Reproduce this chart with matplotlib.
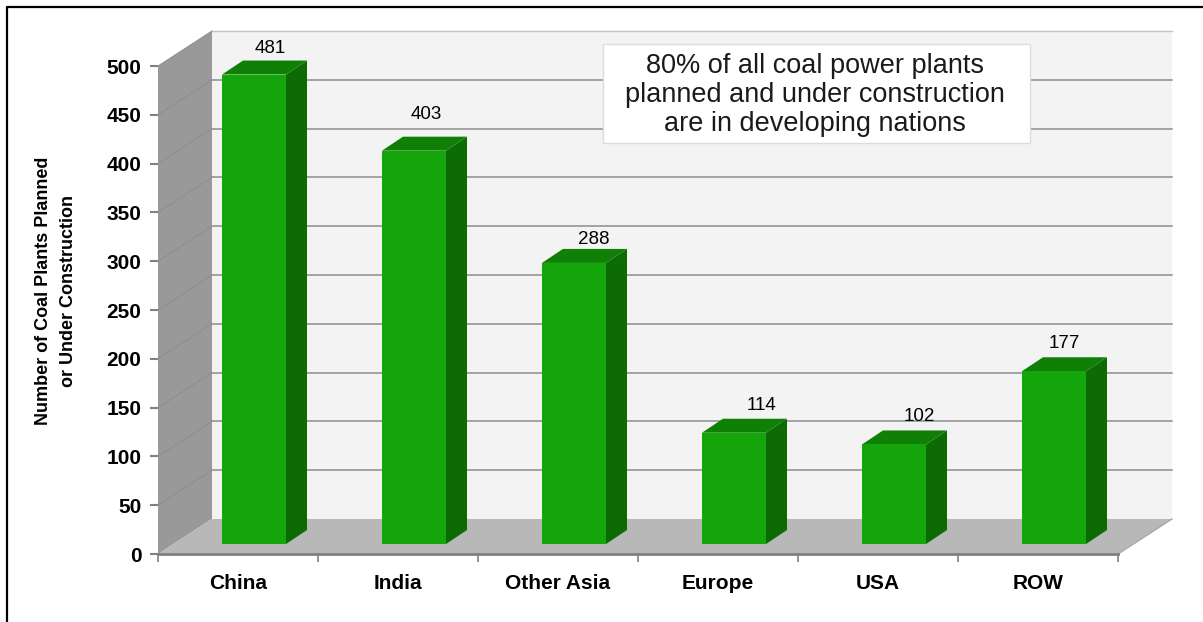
import matplotlib
matplotlib.use("Agg")
import matplotlib.pyplot as plt
import numpy as np
from matplotlib.lines import Line2D
from matplotlib.patches import Rectangle

categories = ["China", "India", "Other Asia", "Europe", "USA", "ROW"]
plants = [481, 403, 288, 114, 102, 177]
y_ticks = [0, 50, 100, 150, 200, 250, 300, 350, 400, 450, 500]
note = "80% of all coal power plants\nplanned and under construction\nare in developing nations"
y_title = "Number of Coal Plants Planned\nor Under Construction"

W, H = 1203, 622
FRONT = "#14a50a"
SIDE = "#0c6b05"
TOP = "#107f06"
WALL = "#f3f3f3"
LEFT_WALL = "#999999"
FLOOR = "#b8b8b8"
GRID = "#8c8c8c"

plt.rcParams["font.family"] = ["Liberation Sans", "DejaVu Sans"]

fig = plt.figure(figsize=(W / 100, H / 100), dpi=100, facecolor="white")
ax = fig.add_axes([158 / W, (H - 554) / H, 960 / W, 488 / H])
ax.set_xlim(0, 6)
ax.set_ylim(0, 500)
ax.patch.set_visible(False)
for spine in ax.spines.values():
    spine.set_visible(False)


def px(dx, dy):
    # pixel offsets to data units, for the fake depth
    return dx * 6 / 960, dy * 500 / 488


wall_x, wall_y = px(54, 35)

# walls and floor
ax.fill([wall_x, 6 + wall_x, 6 + wall_x, wall_x],
        [wall_y, wall_y, 500 + wall_y, 500 + wall_y],
        color=WALL, lw=0, clip_on=False, zorder=1)
ax.plot([wall_x, 6 + wall_x], [500 + wall_y] * 2, color="#c4c4c4", lw=1, clip_on=False, zorder=1.5)
ax.fill([0, wall_x, wall_x, 0], [0, wall_y, 500 + wall_y, 500],
        color=LEFT_WALL, lw=0, clip_on=False, zorder=1)
ax.fill([0, 6, 6 + wall_x, wall_x], [0, 0, wall_y, wall_y],
        color=FLOOR, lw=0, clip_on=False, zorder=1)

# grid, on back wall and running down the side wall
for v in y_ticks[1:]:
    if v < 500:
        ax.plot([wall_x, 6 + wall_x], [v + wall_y] * 2, color=GRID, lw=1.1, clip_on=False, zorder=2)
    ax.plot([0, wall_x], [v, v + wall_y], color="#8e8e8e", lw=0.7, clip_on=False, zorder=2)
ax.plot([6, 6 + wall_x], [0, wall_y], color="#a8a8a8", lw=1, clip_on=False, zorder=2)
ax.plot([0, 6], [0, 0], color="#808080", lw=2, clip_on=False, zorder=3)

# bars
x = np.arange(len(categories)) + 0.5
values = np.array(plants)
shift_x, base = px(16, 10)
width = 0.4
side_x, side_y = px(21, 14)
ax.bar(x + shift_x, values, width=width, bottom=base, color=FRONT, lw=0, zorder=5, clip_on=False)
for xi, v in zip(x + shift_x, values):
    left, right = xi - width / 2, xi + width / 2
    top = base + v
    ax.fill([right, right + side_x, right + side_x, right],
            [base, base + side_y, top + side_y, top],
            color=SIDE, lw=0, clip_on=False, zorder=4)
    ax.fill([left, left + side_x, right + side_x, right],
            [top, top + side_y, top + side_y, top],
            color=TOP, lw=0, clip_on=False, zorder=4)

# value labels sit at uneven spots in the original
label_dx = [16, 12, 20, 27, 25, 10]
label_dy = [26, 36, 23, 27, 28, 28]
for xi, v, dx, dy in zip(x + shift_x, values, label_dx, label_dy):
    ax.annotate(str(v), (xi, base + v), xytext=(dx * 0.72, dy * 0.72), textcoords="offset points",
                ha="center", va="center", fontsize=13.5, color="black", zorder=6,
                annotation_clip=False)

# axes
ax.set_yticks(y_ticks)
ax.set_yticklabels([str(v) for v in y_ticks], fontsize=15, fontweight="bold")
ax.set_xticks(np.arange(7))
ax.set_xticklabels([])
ax.set_xticks(x, categories, minor=True, fontsize=15, fontweight="bold")
ax.tick_params(axis="y", length=5.5, width=1.5, color="#808080", pad=6.5)
ax.tick_params(axis="x", which="major", length=5.5, width=1.2, color="#808080")
ax.tick_params(axis="x", which="minor", length=0, pad=14.5)

fig.text(56 / W, 1 - 291 / H, y_title, rotation=90, ha="center", va="center",
         fontsize=13, fontweight="bold", linespacing=1.6)

# note box
box = Rectangle((603 / W, 1 - 143 / H), 427 / W, 99 / H, transform=fig.transFigure,
                facecolor="white", edgecolor="#dcdcdc", lw=1, zorder=8)
fig.add_artist(box)
fig.text(815 / W, 1 - 95 / H, note, ha="center", va="center", fontsize=19.5,
         linespacing=1.14, color="#1a1a1a", zorder=9)

# frame, only top and left are in the image
fig.add_artist(Line2D([6.5 / W, 6.5 / W, 1], [0, 1 - 6.5 / H, 1 - 6.5 / H],
                      color="black", lw=1.6, transform=fig.transFigure))

fig.savefig("out.png", dpi=100)
